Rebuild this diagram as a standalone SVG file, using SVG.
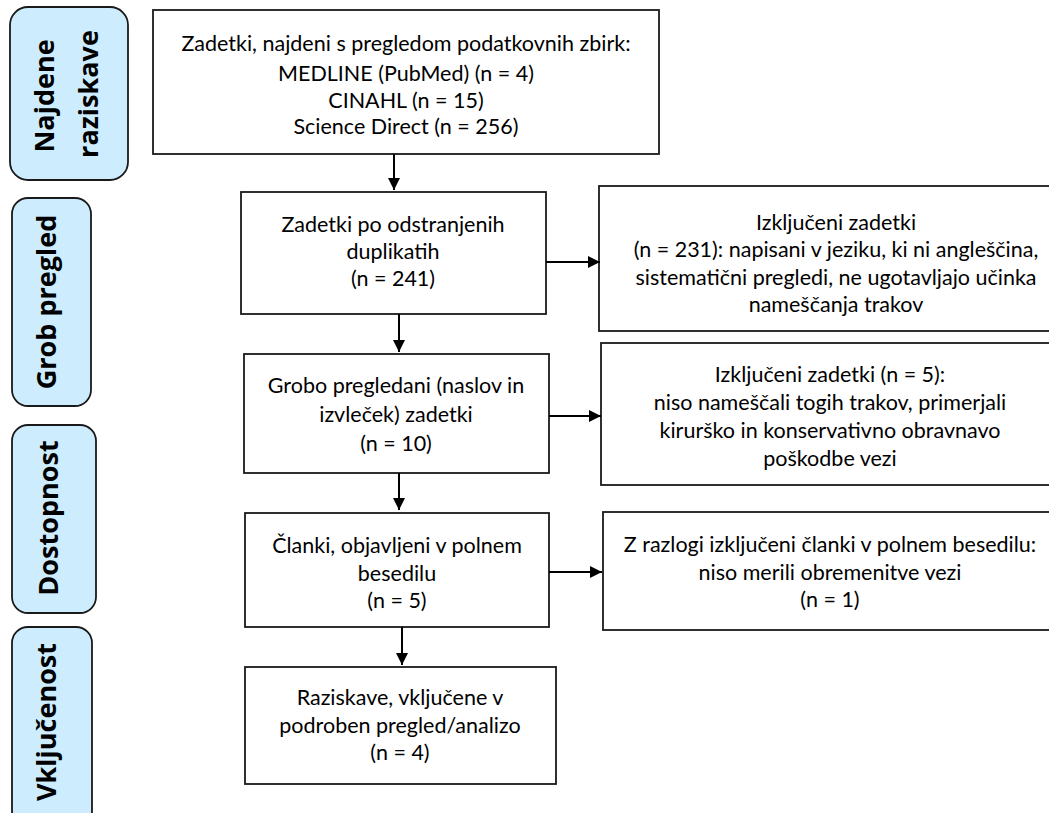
<svg xmlns="http://www.w3.org/2000/svg" width="1049" height="813" viewBox="0 0 1049 813">
<defs>
<style>
.box{fill:#fff;stroke:#1a1a1a;stroke-width:1.8}
.side{fill:#cdedff;stroke:#1a1a1a;stroke-width:1.8}
.t{font-family:Lato,"Liberation Sans",sans-serif;font-size:21.5px;fill:#000;text-anchor:middle}
.s{font-family:"Open Sans","Liberation Sans",sans-serif;font-size:27px;font-weight:bold;fill:#000;text-anchor:middle}
.c{stroke:#000;stroke-width:2;fill:none;marker-end:url(#ah)}
</style>
<marker id="ah" markerUnits="userSpaceOnUse" markerWidth="12" markerHeight="12" refX="12" refY="6" orient="auto">
<path d="M0,0 L12,6 L0,12 z" fill="#000"/>
</marker>
</defs>
<rect width="1049" height="813" fill="#fff"/>

<g id="side-najdene">
<rect class="side" x="10" y="7" width="118" height="173" rx="18"/>
<text class="s" transform="translate(54,96) rotate(-90)">Najdene</text>
<text class="s" transform="translate(98,94) rotate(-90)">raziskave</text>
</g>
<g id="side-grob">
<rect class="side" x="12" y="198" width="79" height="208" rx="16"/>
<text class="s" transform="translate(56,302) rotate(-90)">Grob pregled</text>
</g>
<g id="side-dostopnost">
<rect class="side" x="12" y="425" width="84" height="188" rx="16"/>
<text class="s" transform="translate(58,518) rotate(-90)">Dostopnost</text>
</g>
<g id="side-vkljucenost">
<rect class="side" x="12" y="627" width="80" height="200" rx="16"/>
<text class="s" transform="translate(56,722) rotate(-90)">Vključenost</text>
</g>

<g id="n1">
<rect class="box" x="153" y="10" width="506" height="144"/>
<text class="t" x="406" y="51">Zadetki, najdeni s pregledom podatkovnih zbirk:</text>
<text class="t" x="406" y="81">MEDLINE (PubMed) (n = 4)</text>
<text class="t" x="406" y="108">CINAHL (n = 15)</text>
<text class="t" x="406" y="134">Science Direct (n = 256)</text>
</g>
<g id="n2">
<rect class="box" x="241" y="192" width="305" height="122"/>
<text class="t" x="393" y="232">Zadetki po odstranjenih</text>
<text class="t" x="393" y="259">duplikatih</text>
<text class="t" x="393" y="286">(n = 241)</text>
</g>
<g id="n3">
<rect class="box" x="244" y="354" width="305" height="119"/>
<text class="t" x="396" y="393">Grobo pregledani (naslov in</text>
<text class="t" x="396" y="422">izvleček) zadetki</text>
<text class="t" x="396" y="451">(n = 10)</text>
</g>
<g id="n4">
<rect class="box" x="245" y="513" width="304" height="114"/>
<text class="t" x="397" y="553">Članki, objavljeni v polnem</text>
<text class="t" x="397" y="581">besedilu</text>
<text class="t" x="397" y="608">(n = 5)</text>
</g>
<g id="n5">
<rect class="box" x="245" y="667" width="311" height="117"/>
<text class="t" x="400" y="705">Raziskave, vključene v</text>
<text class="t" x="400" y="733">podroben pregled/analizo</text>
<text class="t" x="400" y="760">(n = 4)</text>
</g>
<g id="e1">
<rect class="box" x="599" y="186" width="470" height="145"/>
<text class="t" x="836" y="230">Izključeni zadetki</text>
<text class="t" x="836" y="257">(n = 231): napisani v jeziku, ki ni angleščina,</text>
<text class="t" x="836" y="285">sistematični pregledi, ne ugotavljajo učinka</text>
<text class="t" x="836" y="312">nameščanja trakov</text>
</g>
<g id="e2">
<rect class="box" x="601" y="343" width="470" height="142"/>
<text class="t" x="830" y="382">Izključeni zadetki (n = 5):</text>
<text class="t" x="830" y="410">niso nameščali togih trakov, primerjali</text>
<text class="t" x="830" y="438">kirurško in konservativno obravnavo</text>
<text class="t" x="830" y="466">poškodbe vezi</text>
</g>
<g id="e3">
<rect class="box" x="603" y="512" width="470" height="118"/>
<text class="t" x="830" y="552">Z razlogi izključeni članki v polnem besedilu:</text>
<text class="t" x="830" y="580">niso merili obremenitve vezi</text>
<text class="t" x="830" y="607">(n = 1)</text>
</g>

<g id="connectors">
<path class="c" d="M394,154 L394,190"/>
<path class="c" d="M546,262 L600,262"/>
<path class="c" d="M399,314 L399,352"/>
<path class="c" d="M549,416 L601,416"/>
<path class="c" d="M399,473 L399,510"/>
<path class="c" d="M549,572 L602,572"/>
<path class="c" d="M402,627 L402,665"/>
</g>
</svg>
